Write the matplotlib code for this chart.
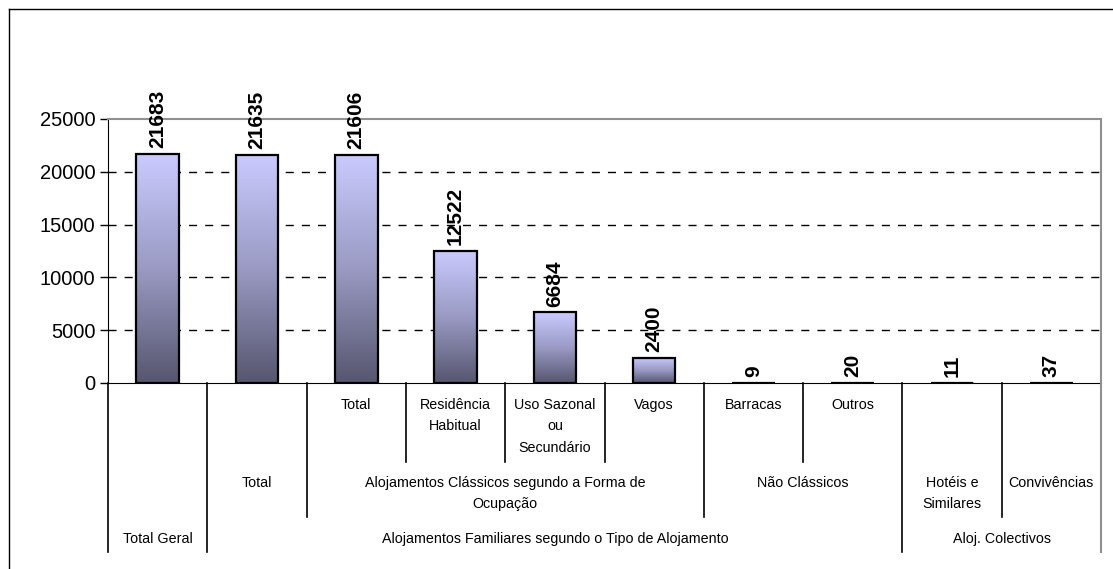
import numpy as np
import matplotlib
matplotlib.use("Agg")
import matplotlib.pyplot as plt
from matplotlib.colors import LinearSegmentedColormap
from matplotlib.transforms import blended_transform_factory
from matplotlib.lines import Line2D

plt.rcParams['font.family'] = ['Liberation Sans', 'DejaVu Sans']

# values per bar (left to right)
values = [21683, 21635, 21606, 12522, 6684, 2400, 9, 20, 11, 37]

# bottom category axis, three levels
level1 = ["", "", "Total", "Residência\nHabitual", "Uso Sazonal\nou\nSecundário",
          "Vagos", "Barracas", "Outros", "", ""]
level2_labels = ["Total", "Alojamentos Clássicos segundo a Forma de\nOcupação",
                 "Não Clássicos", "Hotéis e\nSimilares", "Convivências"]
level2_span = [(1, 1), (2, 5), (6, 7), (8, 8), (9, 9)]
level3_labels = ["Total Geral", "Alojamentos Familiares segundo o Tipo de Alojamento",
                 "Aloj. Colectivos"]
level3_span = [(0, 0), (1, 7), (8, 9)]

yticks = [0, 5000, 10000, 15000, 20000, 25000]

W, H = 1113, 569
fig = plt.figure(figsize=(W / 100, H / 100), dpi=100)
ax = fig.add_axes([108 / W, 1 - 383 / H, (1101 - 108) / W, (383 - 119) / H])

n = len(values)
x = np.arange(n)
bw = 0.43
cmap = LinearSegmentedColormap.from_list("bar", ["#56566f", "#9a9ac4", "#cacaff"])
grad = np.linspace(0, 1, 256).reshape(-1, 1)

for xi, v in zip(x, values):
    ax.imshow(grad, extent=[xi - bw / 2, xi + bw / 2, 0, v], origin='lower',
              aspect='auto', cmap=cmap, zorder=2)
ax.bar(x, values, width=bw, facecolor='none', edgecolor='black', linewidth=1.6, zorder=3)

for xi, v in zip(x, values):
    ax.annotate(str(v), (xi, v), xytext=(0, 4), textcoords='offset points',
                rotation=90, ha='center', va='bottom', fontsize=15,
                fontweight='bold')

ax.set_xlim(-0.5, n - 0.5)
ax.set_ylim(0, 25000)
ax.set_yticks(yticks)
ax.set_yticklabels([str(t) for t in yticks], fontsize=14.5)
ax.set_xticks([])
ax.tick_params(axis='y', length=6, width=1, direction='out', pad=3)
for yv in yticks[1:-1]:
    ax.axhline(yv, color='black', lw=1, dashes=(5.8, 5.8), zorder=1)

ax.spines['top'].set_color('#909090')
ax.spines['right'].set_color('#909090')
ax.spines['top'].set_linewidth(1.5)
ax.spines['right'].set_linewidth(1.5)
ax.spines['left'].set_color('black')
ax.spines['bottom'].set_color('black')

# category axis drawn below the plot
tr = blended_transform_factory(ax.transData, fig.transFigure)


def fy(py):
    return 1 - py / H


depth = {0: 552, 1: 552, 2: 517, 3: 462, 4: 462, 5: 462, 6: 517, 7: 462, 8: 552, 9: 517, 10: 552}
for k in range(n + 1):
    col = '#909090' if k == n else 'black'
    fig.add_artist(Line2D([k - 0.5, k - 0.5], [fy(383), fy(depth[k])], transform=tr,
                          color=col, lw=1.2 if k < n else 1.5))

for xi, lab in zip(x, level1):
    if lab:
        ax.text(xi, fy(398), lab, transform=tr, ha='center', va='top',
                fontsize=10.3, linespacing=1.68)
for lab, (a, b) in zip(level2_labels, level2_span):
    ax.text((a + b) / 2, fy(476), lab, transform=tr, ha='center', va='top',
            fontsize=10.3, linespacing=1.68)
for lab, (a, b) in zip(level3_labels, level3_span):
    ax.text((a + b) / 2, fy(532), lab, transform=tr, ha='center', va='top',
            fontsize=10.3, linespacing=1.68)

# outer chart frame
fig.add_artist(Line2D([9 / W, 9 / W], [fy(9), 0], transform=fig.transFigure, color='black', lw=1))
fig.add_artist(Line2D([9 / W, 1], [fy(9), fy(9)], transform=fig.transFigure, color='black', lw=1))

fig.savefig("out.png", dpi=100)
